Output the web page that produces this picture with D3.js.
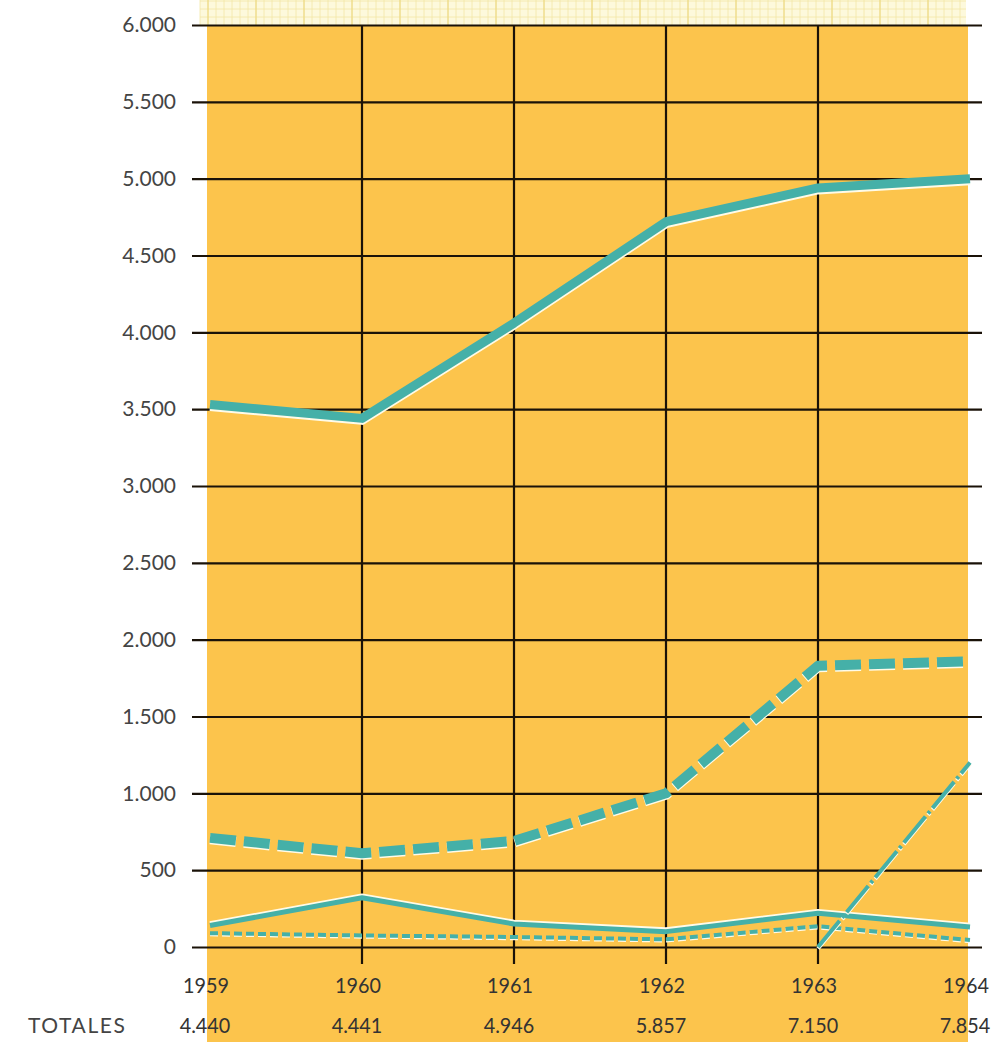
<!DOCTYPE html>
<html><head><meta charset="utf-8">
<script src="https://cdn.jsdelivr.net/npm/d3@7"></script>
<style>
html,body{margin:0;padding:0;background:#fff;}
svg{display:block;}
text{font-family:Lato,"Noto Sans",sans-serif;}
</style></head>
<body>
<svg id="chart" width="1001" height="1042"></svg>
<script>
// ---- data ----
const years = [1959, 1960, 1961, 1962, 1963, 1964];
const totals = ["4.440", "4.441", "4.946", "5.857", "7.150", "7.854"];
const yTicks = [0, 500, 1000, 1500, 2000, 2500, 3000, 3500, 4000, 4500, 5000, 5500, 6000];
const serieA = [3530, 3440, 4060, 4720, 4940, 5000];   // thick solid
const serieB = [710, 610, 690, 1000, 1830, 1860];      // thick dashed
const serieC = [140, 320, 150, 100, 220, 130];         // thin solid
const serieD = [90, 75, 65, 50, 135, 45];              // thin dotted
const serieE = [null, null, null, null, 0, 1200];      // dash-dot

const svg = d3.select("#chart");
const x = d3.scaleLinear().domain([1959, 1964]).range([210, 970]);
const y = d3.scaleLinear().domain([0, 6000]).range([947, 25]);
const teal = "#45b0a8";

// graph paper strip at top
const paper = svg.append("g");
paper.append("rect").attr("x", 200).attr("y", 0).attr("width", 766).attr("height", 25).attr("fill", "#fdf9dc");
paper.selectAll("line.minor").data(d3.range(200, 966, 8)).join("line")
  .attr("x1", d => d).attr("x2", d => d).attr("y1", 0).attr("y2", 25)
  .attr("stroke", "#f3e7a6").attr("stroke-width", 0.8);
paper.selectAll("line.minorh").data(d3.range(1, 25, 8)).join("line")
  .attr("x1", 200).attr("x2", 966).attr("y1", d => d).attr("y2", d => d)
  .attr("stroke", "#f3e7a6").attr("stroke-width", 0.8);
paper.selectAll("line.major").data(d3.range(208, 966, 48)).join("line")
  .attr("x1", d => d).attr("x2", d => d).attr("y1", 0).attr("y2", 25)
  .attr("stroke", "#ecd77a").attr("stroke-width", 1);

// orange background
svg.append("rect").attr("x", 207).attr("y", y(6000)).attr("width", 761).attr("height", 1042 - y(6000))
  .attr("fill", "#fcc44c");

// y axis with gridlines
const fmt = d3.formatLocale({decimal: ",", thousands: ".", grouping: [3], currency: ["", ""]}).format(",");
const yAxis = d3.axisLeft(y).tickValues(yTicks).tickFormat(fmt).tickSize(-(982 - 192)).tickPadding(16);
const gy = svg.append("g").attr("transform", "translate(192,0)").call(yAxis);
gy.select(".domain").remove();
gy.selectAll(".tick line").attr("stroke", "#1a1208").attr("stroke-width", 2.2);
gy.selectAll(".tick text").attr("fill", "#444").attr("font-size", 21).attr("font-family", "Lato, sans-serif");

// vertical gridlines
svg.append("g").selectAll("line").data(years.slice(1, 5)).join("line")
  .attr("x1", d => x(d)).attr("x2", d => x(d))
  .attr("y1", y(6000)).attr("y2", y(0) + 17)
  .attr("stroke", "#1a1208").attr("stroke-width", 2.2);

// series
const line = d3.line().defined(d => d[1] !== null).x(d => x(d[0])).y(d => y(d[1]));
function draw(vals, width, dash, cap, haloDy) {
  const pts = years.map((yr, i) => [yr, vals[i]]);
  svg.append("path").datum(pts).attr("d", line)
    .attr("fill", "none").attr("stroke", "#fffbe8").attr("stroke-width", width)
    .attr("stroke-dasharray", dash).attr("stroke-linejoin", "round").attr("stroke-linecap", cap)
    .attr("transform", `translate(0,${haloDy})`);
  svg.append("path").datum(pts).attr("d", line)
    .attr("fill", "none").attr("stroke", teal).attr("stroke-width", width)
    .attr("stroke-dasharray", dash).attr("stroke-linejoin", "round").attr("stroke-linecap", cap);
}
draw(serieD, 4, "8 4", "butt", 1.2);
draw(serieC, 5, null, "butt", -1.8);
draw(serieE, 4, "34 4 3 4", "butt", 1.5);
draw(serieB, 10, "26 8", "butt", 1.5);
draw(serieA, 9, null, "butt", 2);

// x labels (slightly condensed like the original typeface)
svg.append("g").selectAll("text").data(years).join("text")
  .attr("transform", d => `translate(${x(d) - 4},993) scale(0.9,1)`)
  .attr("text-anchor", "middle")
  .attr("font-size", 22).attr("fill", "#333").text(d => d);
svg.append("g").selectAll("text").data(totals).join("text")
  .attr("transform", (d, i) => `translate(${x(years[i]) - 5},1033) scale(0.9,1)`)
  .attr("text-anchor", "middle")
  .attr("font-size", 22).attr("fill", "#333").text(d => d);
svg.append("text").attr("x", 28).attr("y", 1033).attr("font-size", 21)
  .attr("fill", "#444").attr("letter-spacing", 1.6).text("TOTALES");
</script>
</body></html>
